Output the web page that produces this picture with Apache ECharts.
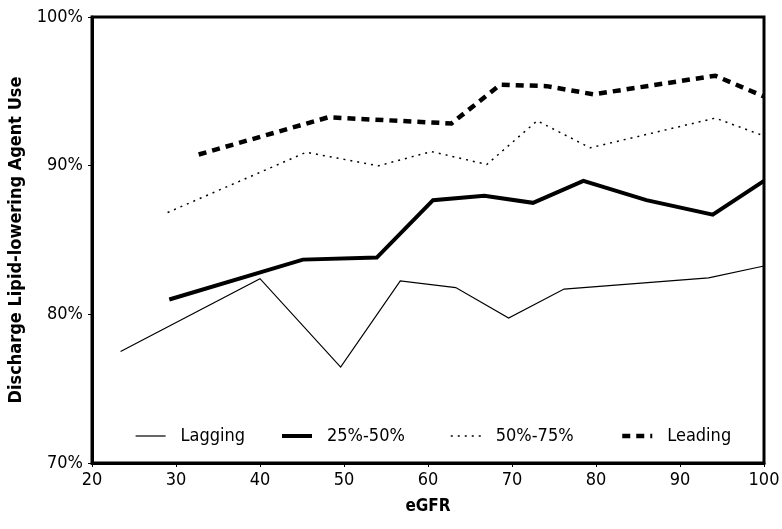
<!DOCTYPE html>
<html>
<head>
<meta charset="utf-8">
<script src="https://cdn.jsdelivr.net/npm/echarts@6/dist/echarts.min.js"></script>
<style>html,body{margin:0;padding:0;background:#fff}#c{width:782px;height:529px}</style>
</head>
<body>
<div id="c"></div>
<script>
const seriesNames = ['Lagging', '25%-50%', '50%-75%', 'Leading'];
const laggingX = [23.4, 40, 49.6, 56.7, 63.3, 69.6, 76.2, 93.4, 100];
const laggingY = [77.5, 82.4, 76.45, 82.25, 81.8, 79.75, 81.7, 82.45, 83.25];
const q2550X = [29.2, 45.1, 53.9, 60.6, 66.7, 72.5, 78.5, 86.0, 93.9, 100];
const q2550Y = [81.0, 83.68, 83.82, 87.68, 87.97, 87.5, 88.98, 87.68, 86.7, 88.98];
const q5075X = [29.0, 45.5, 54.1, 60.4, 67.0, 73.0, 79.3, 94.2, 100];
const q5075Y = [86.85, 90.9, 89.99, 90.95, 90.08, 93.02, 91.2, 93.2, 92.0];
const leadingX = [32.7, 48.1, 62.8, 68.6, 74.1, 79.7, 94.2, 100];
const leadingY = [90.75, 93.25, 92.84, 95.45, 95.35, 94.8, 96.05, 94.65];
const xTicks = [20, 30, 40, 50, 60, 70, 80, 90, 100];
const yTicks = ['70%', '80%', '90%', '100%'];

const FONT = '"DejaVu Sans Condensed", "DejaVu Sans", sans-serif';
function pairs(xs, ys) { return xs.map((x, i) => [x, ys[i]]); }

const styles = [
  { width: 1.2, type: 'solid' },
  { width: 4, type: 'solid' },
  { width: 1.5, type: [2, 5] },
  { width: 4.5, type: [8, 6] }
];
const dataSets = [pairs(laggingX, laggingY), pairs(q2550X, q2550Y), pairs(q5075X, q5075Y), pairs(leadingX, leadingY)];
const legendLefts = [130, 275, 445, 615];

const chart = echarts.init(document.getElementById('c'), null, { renderer: 'canvas' });
chart.setOption({
  animation: false,
  backgroundColor: '#fff',
  grid: { left: 92, right: 18, top: 17, bottom: 66, containLabel: false, outerBoundsMode: 'none', show: true, borderColor: '#000', borderWidth: 3, backgroundColor: 'transparent' },
  legend: seriesNames.map((n, i) => ({
    show: true,
    data: [n],
    left: legendLefts[i],
    top: 422,
    itemWidth: 30,
    itemHeight: 14,
    itemStyle: { opacity: 0 },
    lineStyle: { width: styles[i].width, type: styles[i].type, color: '#000', cap: 'butt' },
    textStyle: { fontFamily: FONT, fontSize: 18, color: '#000', padding: [0, 0, 0, 10] }
  })),
  xAxis: {
    type: 'value', min: 20, max: 100, interval: 10,
    name: 'eGFR', nameLocation: 'middle', nameGap: 35,
    nameTextStyle: { fontFamily: FONT, fontSize: 17, fontWeight: 'bold', color: '#000' },
    axisLine: { show: true, lineStyle: { color: '#000', width: 3 } },
    axisTick: { show: true, length: 4, lineStyle: { color: '#000' } },
    axisLabel: { fontFamily: FONT, fontSize: 18, color: '#000', margin: 8, formatter: v => String(xTicks[(v - 20) / 10]) },
    splitLine: { show: false }
  },
  yAxis: {
    type: 'value', min: 70, max: 100, interval: 10,
    name: 'Discharge Lipid-lowering Agent Use', nameLocation: 'middle', nameGap: 66, nameRotate: 90,
    nameTextStyle: { fontFamily: FONT, fontSize: 18, fontWeight: 'bold', color: '#000' },
    axisLine: { show: true, lineStyle: { color: '#000', width: 3 } },
    axisTick: { show: true, length: 4, lineStyle: { color: '#000' } },
    axisLabel: { fontFamily: FONT, fontSize: 18, color: '#000', margin: 9, formatter: v => yTicks[(v - 70) / 10] },
    splitLine: { show: false }
  },
  series: seriesNames.map((n, i) => ({
    name: n, type: 'line', data: dataSets[i], showSymbol: false, symbol: 'none',
    color: '#000',
    itemStyle: { color: '#000' },
    lineStyle: { color: '#000', width: styles[i].width, type: styles[i].type, cap: 'butt', join: 'miter' }
  }))
});
</script>
</body>
</html>
